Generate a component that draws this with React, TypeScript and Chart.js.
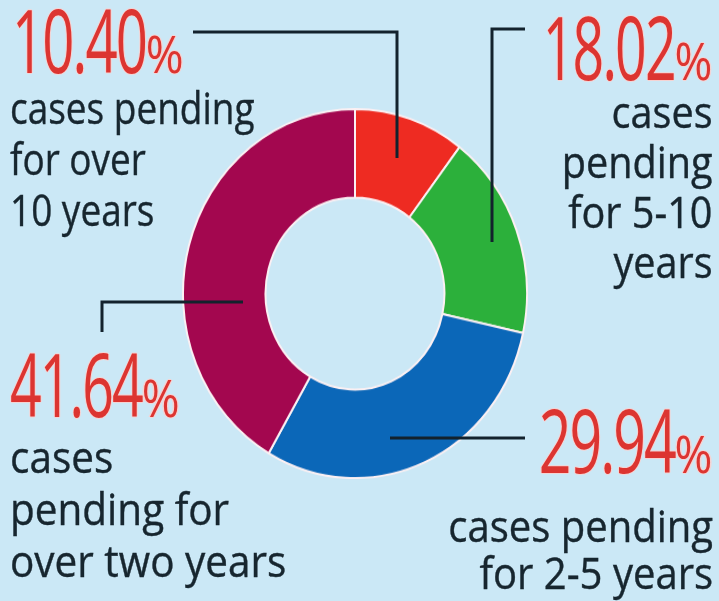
import React, { useEffect, useRef } from 'react';
import { Chart, registerables } from 'chart.js';

Chart.register(...registerables);

// ---- data ----
const categories = ['over 10 years', '5-10 years', '2-5 years', 'over two years'];
const shares = [10.4, 18.02, 29.94, 41.64];
const sliceColors = ['#ee2b22', '#2cb03b', '#0b67b8', '#a3074f'];
const captionLines = [
  ['cases pending', 'for over', '10 years'],
  ['cases', 'pending', 'for 5-10', 'years'],
  ['cases pending', 'for 2-5 years'],
  ['cases', 'pending for', 'over two years'],
];

// ---- style / layout ----
const W = 719;
const H = 601;
const BG = '#cbe8f6';
const INK = '#17262f';
const RED = '#dc3531';
const LEADER = '#13222d';
const FONT = '"Open Sans", "Liberation Sans", sans-serif';
const ASC = 1.069;
const DESC = 0.293;

type Block = {
  align: 'left' | 'right';
  x: number;
  numBase: number;
  numSize: number;
  numScale: number;
  pctSize: number;
  bodyX: number;
  bodyBase: number;
  bodySize: number;
  bodyLH: number;
  bodyScale: number;
};

const blocks: Block[] = [
  { align: 'left', x: 12, numBase: 73, numSize: 88, numScale: 0.64, pctSize: 52, bodyX: 10, bodyBase: 125, bodySize: 44, bodyLH: 51, bodyScale: 0.84 },
  { align: 'right', x: 713, numBase: 80, numSize: 88, numScale: 0.63, pctSize: 52, bodyX: 713, bodyBase: 128, bodySize: 44, bodyLH: 50, bodyScale: 0.9 },
  { align: 'right', x: 713, numBase: 473, numSize: 88, numScale: 0.65, pctSize: 52, bodyX: 713, bodyBase: 543, bodySize: 44, bodyLH: 47, bodyScale: 0.91 },
  { align: 'left', x: 10, numBase: 417, numSize: 88, numScale: 0.63, pctSize: 52, bodyX: 10, bodyBase: 473, bodySize: 44, bodyLH: 52, bodyScale: 0.92 },
];

const leaders: number[][][] = [
  [[193, 32], [397, 32], [397, 158]],
  [[525, 29], [492, 29], [492, 242]],
  [[390, 438], [525, 438]],
  [[243, 302], [102, 302], [102, 332]],
];

const CHART_BOX = { left: 182, top: 108, size: 346, stretchY: 1.0727 };
const PCT_SCREEN_WIDTH = 38;

function topFor(baseline: number, fs: number, lh: number) {
  return baseline - ((lh - (ASC + DESC) * fs) / 2 + ASC * fs);
}

function TextBlock({ b, i }: { b: Block; i: number }) {
  const posNum: React.CSSProperties =
    b.align === 'left' ? { left: b.x } : { right: W - b.x };
  const posBody: React.CSSProperties =
    b.align === 'left' ? { left: b.bodyX } : { right: W - b.bodyX };
  const halo = '#f5d3d3';
  const pctBox = PCT_SCREEN_WIDTH / b.numScale;
  const pctStretch = pctBox / (0.83 * b.pctSize);
  return (
    <>
      <div
        style={{
          position: 'absolute',
          ...posNum,
          top: topFor(b.numBase, b.numSize, b.numSize),
          fontFamily: FONT,
          fontSize: b.numSize,
          lineHeight: `${b.numSize}px`,
          color: RED,
          whiteSpace: 'pre',
          transform: `scaleX(${b.numScale})`,
          transformOrigin: b.align === 'left' ? 'left top' : 'right top',
          textShadow: `1.5px 0 0 ${halo}, -1.5px 0 0 ${halo}, 0 1px 0 ${halo}, 0 -1px 0 ${halo}`,
        }}
      >
        <span style={{ letterSpacing: -3 }}>{shares[i].toFixed(2)}</span>
        <span
          style={{
            display: 'inline-block',
            width: pctBox,
            fontSize: b.pctSize,
            transform: `scaleX(${pctStretch})`,
            transformOrigin: 'left bottom',
          }}
        >
          %
        </span>
      </div>
      <div
        style={{
          position: 'absolute',
          ...posBody,
          top: topFor(b.bodyBase, b.bodySize, b.bodyLH),
          fontFamily: FONT,
          fontSize: b.bodySize,
          lineHeight: `${b.bodyLH}px`,
          color: INK,
          whiteSpace: 'pre',
          textAlign: b.align,
          transform: `scaleX(${b.bodyScale})`,
          transformOrigin: b.align === 'left' ? 'left top' : 'right top',
          WebkitTextStroke: `0.4px ${INK}`,
        }}
      >
        {captionLines[i].join('\n')}
      </div>
    </>
  );
}

export default function App() {
  const canvasRef = useRef<HTMLCanvasElement | null>(null);

  useEffect(() => {
    const canvas = canvasRef.current;
    if (!canvas) return;
    const chart = new Chart(canvas, {
      type: 'doughnut',
      data: {
        labels: categories,
        datasets: [
          {
            data: shares,
            backgroundColor: sliceColors,
            borderColor: '#fbf0f3',
            borderWidth: 2,
            hoverOffset: 0,
            offset: 0,
          },
        ],
      },
      options: {
        animation: false,
        responsive: false,
        maintainAspectRatio: false,
        events: [],
        cutout: '52%',
        rotation: 0,
        layout: { padding: 0 },
        plugins: {
          legend: { display: false },
          tooltip: { enabled: false },
        },
      },
    });
    return () => chart.destroy();
  }, []);

  return (
    <div
      style={{
        position: 'absolute',
        left: 0,
        top: 0,
        width: W,
        height: H,
        background: BG,
        overflow: 'hidden',
      }}
    >
      <div
        style={{
          position: 'absolute',
          left: CHART_BOX.left,
          top: CHART_BOX.top,
          width: CHART_BOX.size,
          height: CHART_BOX.size,
          transform: `scaleY(${CHART_BOX.stretchY})`,
          transformOrigin: 'left top',
        }}
      >
        <canvas ref={canvasRef} width={CHART_BOX.size} height={CHART_BOX.size} />
      </div>
      <svg
        width={W}
        height={H}
        style={{ position: 'absolute', left: 0, top: 0 }}
      >
        {leaders.map((pts, k) => (
          <polyline
            key={k}
            points={pts.map((p) => p.join(',')).join(' ')}
            fill="none"
            stroke={LEADER}
            strokeWidth={3}
            strokeLinejoin="miter"
          />
        ))}
      </svg>
      {blocks.map((b, i) => (
        <TextBlock key={i} b={b} i={i} />
      ))}
    </div>
  );
}
